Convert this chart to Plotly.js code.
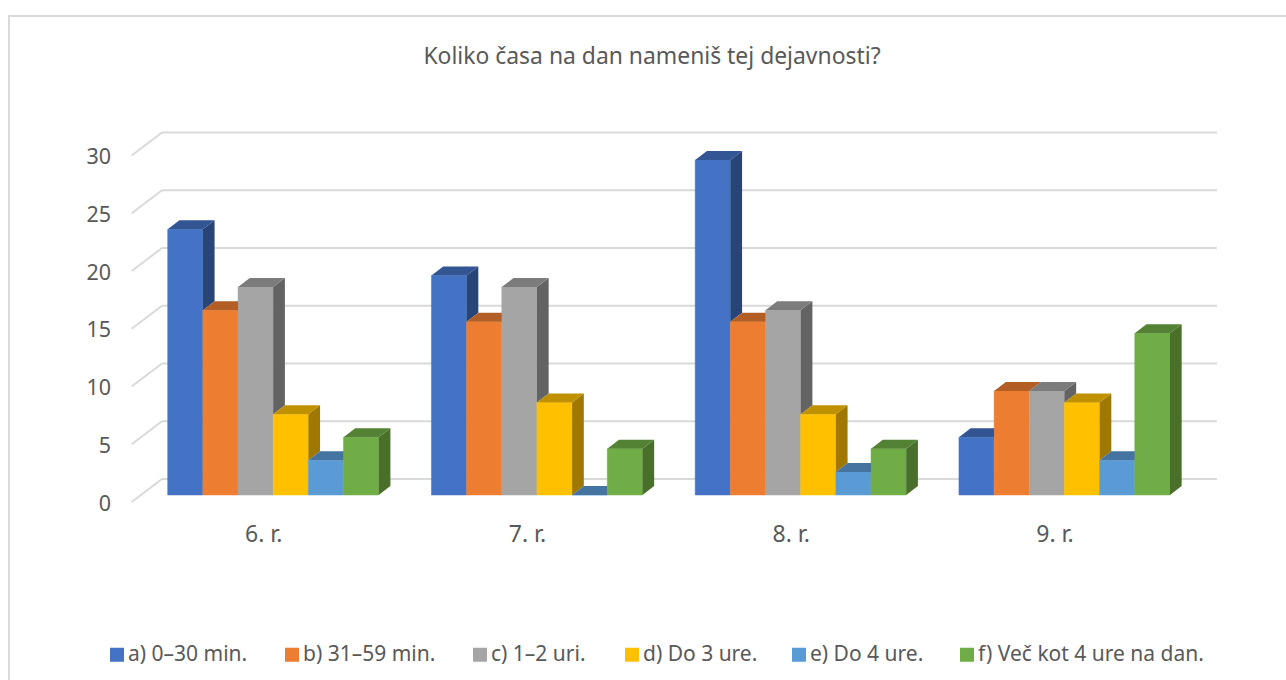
<!DOCTYPE html>
<html>
<head>
<meta charset="utf-8">
<script src="https://cdn.plot.ly/plotly-3.0.1.min.js"></script>
<style>html,body{margin:0;padding:0;background:#fff;overflow:hidden}#chart{width:1286px;height:680px}</style>
</head>
<body>
<div id="chart"></div>
<script>
const categories = ["6. r.", "7. r.", "8. r.", "9. r."];
const seriesNames = ["a) 0–30 min.", "b) 31–59 min.", "c) 1–2 uri.", "d) Do 3 ure.", "e) Do 4 ure.", "f) Več kot 4 ure na dan."];
const valuesA = [23, 19, 29, 5];
const valuesB = [16, 15, 15, 9];
const valuesC = [18, 18, 16, 9];
const valuesD = [7, 8, 7, 8];
const valuesE = [3, 0, 2, 3];
const valuesF = [5, 4, 4, 14];
const yTicks = [0, 5, 10, 15, 20, 25, 30];
const frontColors = ["#4472C4", "#ED7D31", "#A5A5A5", "#FFC000", "#5B9BD5", "#70AD47"];
const topColors = ["#335593", "#B25E25", "#7C7C7C", "#BF9000", "#44749F", "#548235"];
const sideColors = ["#294476", "#8E4B1D", "#636363", "#A07800", "#375D80", "#4A6F2B"];
const legendTextStarts = [128, 303, 491, 643, 810, 978];

const allValues = [valuesA, valuesB, valuesC, valuesD, valuesE, valuesF];
const xUnitPx = 263.75, yUnitPx = 11.55;
const plotL = 125, plotR = 1225, plotT = 120, plotB = 510, zeroPx = 495, cat0Px = 273.2;
const dx = 11.7 / xUnitPx, dy = 9 / yUnitPx, barW = 0.8 / 6;
const xLabelOffset = -9.5 / xUnitPx;

const traces = [];
allValues.forEach((vals, s) => {
  traces.push({
    type: "bar", name: seriesNames[s], x: categories.map((_, i) => i), y: vals,
    marker: {color: frontColors[s], line: {color: frontColors[s], width: 0.5}},
    hoverinfo: "name+y"
  });
});
allValues.forEach((vals, s) => {
  const sideX = [], sideY = [], topX = [], topY = [];
  vals.forEach((v, i) => {
    const l = i - 0.4 + s * barW, r = l + barW;
    const n = s < 5 ? allValues[s + 1][i] : 0;
    if (n < v) {
      sideX.push(r, r + dx, r + dx, r, r, null);
      sideY.push(n, n + dy, v + dy, v, n, null);
    }
    if (n > v) {
      topX.push(l, r, r, l + dx, l, null);
      topY.push(v, v, v + dy, v + dy, v, null);
    } else {
      topX.push(l, r, r + dx, l + dx, l, null);
      topY.push(v, v, v + dy, v + dy, v, null);
    }
  });
  [[sideX, sideY, sideColors[s]], [topX, topY, topColors[s]]].forEach(([px, py, c]) => {
    traces.push({
      type: "scatter", mode: "lines", x: px, y: py, fill: "toself", fillcolor: c,
      line: {width: 0, color: c}, hoverinfo: "skip", showlegend: false
    });
  });
});

const gridColor = "#D9D9D9";
const xMin = (plotL - cat0Px) / xUnitPx, xMax = (plotR - cat0Px) / xUnitPx;
const wallL = (162 - cat0Px) / xUnitPx, wallR = (1217 - cat0Px) / xUnitPx, frontL = (131.7 - cat0Px) / xUnitPx;
const backUp = 16 / yUnitPx, frontDown = -7 / yUnitPx;
const shapes = [];
yTicks.forEach(t => {
  shapes.push({type: "line", layer: "below", xref: "x", yref: "y", x0: wallL, x1: wallR, y0: t + backUp, y1: t + backUp, line: {color: gridColor, width: 2}});
  shapes.push({type: "line", layer: "below", xref: "x", yref: "y", x0: frontL, x1: wallL, y0: t + frontDown, y1: t + backUp, line: {color: gridColor, width: 2}});
});
shapes.push({type: "rect", layer: "below", xref: "paper", yref: "paper",
  x0: (9 - plotL) / (plotR - plotL), x1: (1300 - plotL) / (plotR - plotL),
  y0: (510 - 700) / (plotB - plotT), y1: (510 - 16) / (plotB - plotT),
  line: {color: gridColor, width: 2}});

const layout = {
  width: 1286, height: 680, autosize: false,
  paper_bgcolor: "#fff", plot_bgcolor: "rgba(0,0,0,0)",
  font: {family: "'Noto Sans', sans-serif", size: 21.5, color: "#595959"},
  title: {text: "Koliko časa na dan nameniš tej dejavnosti?", font: {size: 22.9, color: "#595959"}, x: 652 / 1286, xref: "container", xanchor: "center", y: 1 - 56 / 680, yanchor: "middle"},
  margin: {l: plotL, r: 1286 - plotR, t: plotT, b: 680 - plotB, pad: 0},
  barmode: "group", bargap: 0.2, bargroupgap: 0,
  showlegend: true,
  legend: {orientation: "h", x: 0.5, xref: "container", xanchor: "center", y: 27 / 680, yref: "container", yanchor: "middle", font: {size: 21, color: "#595959"}, traceorder: "normal", itemclick: false, itemdoubleclick: false},
  xaxis: {range: [xMin, xMax], tickmode: "array", tickvals: categories.map((_, i) => i + xLabelOffset), ticktext: categories, tickfont: {size: 23}, showgrid: false, zeroline: false, showline: false, ticks: "", ticklabelstandoff: 8, fixedrange: true},
  yaxis: {range: [(zeroPx - plotB) / yUnitPx, (zeroPx - plotT) / yUnitPx], tickmode: "array", tickvals: yTicks, showgrid: false, zeroline: false, showline: false, ticks: "", ticklabelstandoff: 13, ticklabelshift: 8, fixedrange: true},
  shapes: shapes
};
Plotly.newPlot("chart", traces, layout, {displayModeBar: false, responsive: false}).then(gd => {
  // Legend entries keep the library's own swatches and text; only their spacing is tuned.
  const legend = gd.querySelector(".legend");
  const box = legend.querySelector(".scrollbox");
  if (box) box.removeAttribute("clip-path");
  legend.querySelectorAll(".traces").forEach((item, i) => {
    const text = item.querySelector(".legendtext");
    const shift = legendTextStarts[i] - text.getBoundingClientRect().left;
    const m = /translate\(([-\d.]+)[, ]+([-\d.]+)\)/.exec(item.getAttribute("transform"));
    item.setAttribute("transform", "translate(" + (parseFloat(m[1]) + shift) + "," + m[2] + ")");
    const symbols = item.querySelector(".legendsymbols");
    symbols.setAttribute("transform", "translate(9,2)");
    symbols.querySelectorAll("path").forEach(p => p.style.setProperty("stroke-width", "2px"));
  });
});
</script>
</body>
</html>
